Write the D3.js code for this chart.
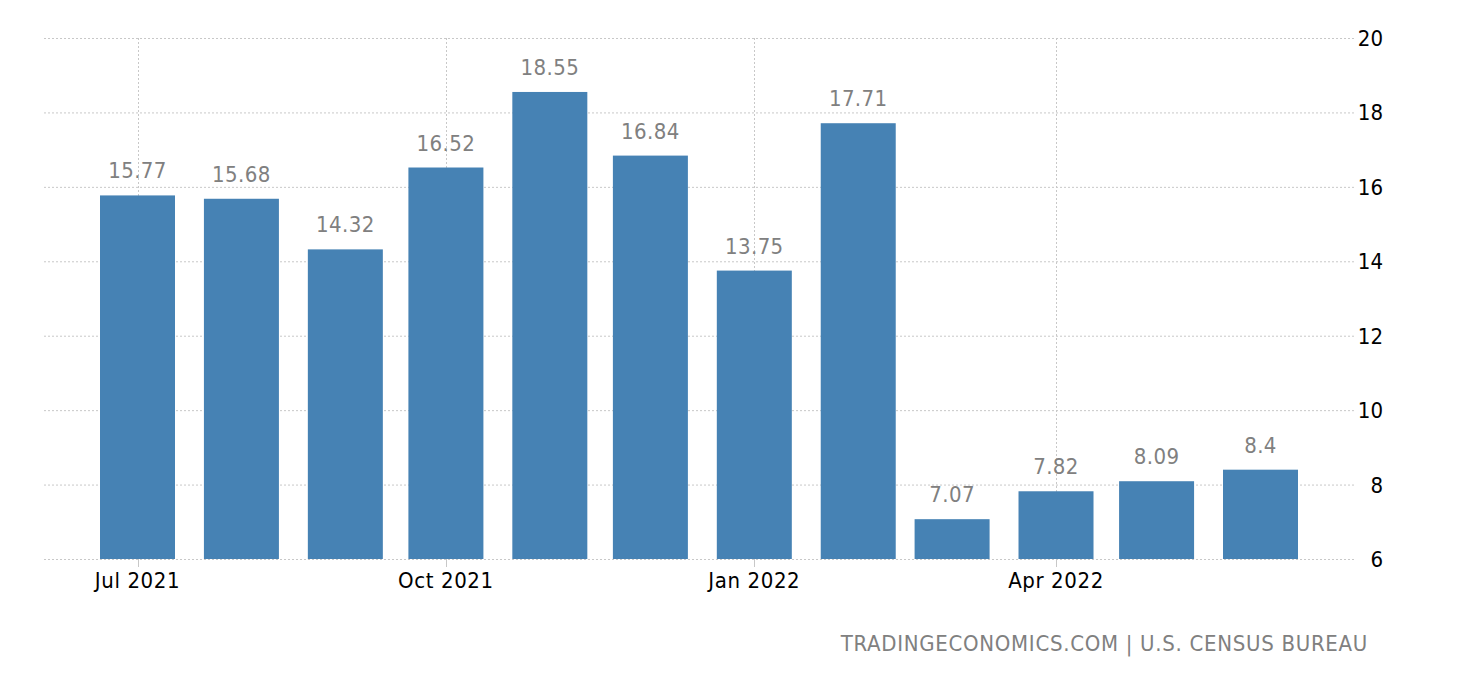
<!DOCTYPE html>
<html><head><meta charset="utf-8">
<script src="https://cdn.jsdelivr.net/npm/d3@7"></script>
<style>body{margin:0;background:#fff;}svg{display:block;font-family:Tahoma,"DejaVu Sans Condensed","DejaVu Sans",sans-serif;font-stretch:condensed;}</style>
</head><body>
<svg id="c" width="1460" height="680"></svg>
<script>
const months = ["2021-07","2021-08","2021-09","2021-10","2021-11","2021-12","2022-01","2022-02","2022-03","2022-04","2022-05","2022-06"];
const values = [15.77,15.68,14.32,16.52,18.55,16.84,13.75,17.71,7.07,7.82,8.09,8.4];
const yTicks = [6,8,10,12,14,16,18,20];
const xTickMonths = ["2021-07","2021-10","2022-01","2022-04"];
const sourceText = "TRADINGECONOMICS.COM | U.S. CENSUS BUREAU";

(function(){
const parse = d3.timeParse("%Y-%m");
const dates = months.map(parse);
const svg = d3.select("#c");
const x = d3.scaleTime().domain([dates[0], dates[dates.length-1]]).range([137.5, 1260.5]);
const y = d3.scaleLinear().domain([6,20]).range([559,38]);
const pl = 44, pr = 1355, pt = 38, pb = 559;
const barW = 75;

svg.append("g").selectAll("line").data(yTicks).join("line")
  .attr("x1", pl).attr("x2", pr)
  .attr("y1", d=>y(d)+0.5).attr("y2", d=>y(d)+0.5)
  .attr("stroke","#c8c8c8").attr("stroke-dasharray","2,2").attr("stroke-width",1);
const xt = xTickMonths.map(parse);
svg.append("g").selectAll("line").data(xt).join("line")
  .attr("x1", d=>Math.round(x(d))+0.5).attr("x2", d=>Math.round(x(d))+0.5)
  .attr("y1", pt).attr("y2", pb)
  .attr("stroke","#c8c8c8").attr("stroke-dasharray","2,2").attr("stroke-width",1);
svg.append("g").selectAll("line").data(xt).join("line")
  .attr("x1", d=>Math.round(x(d))+0.5).attr("x2", d=>Math.round(x(d))+0.5)
  .attr("y1", pb).attr("y2", pb+8)
  .attr("stroke","#c8c8c8").attr("stroke-width",1);

svg.append("g").selectAll("rect").data(values).join("rect")
  .attr("x", (d,i)=>x(dates[i])-barW/2)
  .attr("width", barW)
  .attr("y", d=>y(d))
  .attr("height", d=>y(6)-y(d))
  .attr("fill","#4682b4");

svg.append("g").selectAll("text").data(values).join("text")
  .attr("x", (d,i)=>x(dates[i]))
  .attr("y", d=>y(d)-17)
  .attr("text-anchor","middle")
  .attr("fill","#808080")
  .attr("font-size","22px")
  .attr("letter-spacing","0.4px")
  .text(d=>d);

const fmt = d3.timeFormat("%b %Y");
svg.append("g").selectAll("text").data(xt).join("text")
  .attr("x", d=>x(d)).attr("y", 588)
  .attr("text-anchor","middle").attr("fill","#000").attr("font-size","22px")
  .attr("letter-spacing","0.6px")
  .text(d=>fmt(d));

svg.append("g").selectAll("text").data(yTicks).join("text")
  .attr("x", 1383).attr("y", d=>y(d)+8)
  .attr("text-anchor","end").attr("fill","#000").attr("font-size","22px")
  .text(d=>d);

svg.append("text").attr("x",1368).attr("y",651).attr("text-anchor","end")
  .attr("fill","#808080").attr("font-size","22px").attr("letter-spacing","0.7px").text(sourceText);
})();
</script>
</body></html>
